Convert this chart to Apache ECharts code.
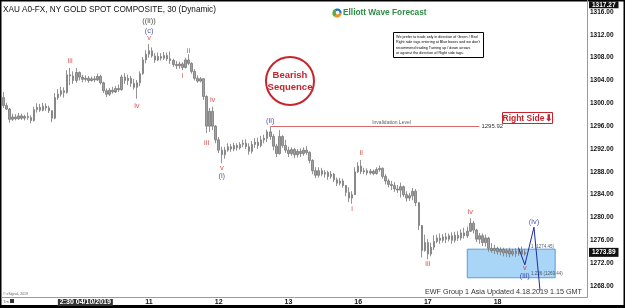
<!DOCTYPE html>
<html lang="en">
<head>
<meta charset="UTF-8">
<title>XAU A0-FX 30</title>
<script src="https://cdn.jsdelivr.net/npm/echarts@6/dist/echarts.min.js"></script>
<style>html,body{margin:0;padding:0;background:#fff}</style>
</head>
<body>
<div id="main" style="width:625px;height:308px"></div>
<script type="text/javascript">
// hourly bars: [open, close, low, high]
var bars = [
 [1301.0,1299.6,1299.2,1302.0],[1299.6,1299.0,1298.8,1300.1],[1299.0,1297.2,1296.6,1299.2],[1297.2,1297.6,1296.9,1298.2],
 [1297.6,1297.3,1297.0,1298.1],[1297.3,1297.8,1297.1,1298.3],[1297.8,1297.4,1297.1,1298.2],[1297.4,1297.7,1297.0,1298.0],
 [1297.7,1297.5,1297.1,1298.4],[1297.5,1297.0,1296.5,1297.9],[1297.0,1298.9,1296.8,1299.4],[1298.9,1299.3,1298.4,1300.0],
 [1299.3,1298.8,1298.5,1299.9],[1298.8,1299.5,1298.6,1300.1],[1299.5,1299.2,1298.7,1300.0],[1299.2,1298.7,1298.3,1299.6],
 [1298.7,1297.4,1296.7,1298.8],[1297.4,1301.0,1297.2,1301.8],[1301.0,1301.6,1300.6,1302.5],[1301.6,1302.2,1301.2,1302.9],
 [1302.2,1301.9,1301.0,1302.8],[1301.9,1305.0,1301.7,1305.8],[1305.0,1304.8,1303.2,1306.2],[1304.8,1304.0,1303.4,1305.6],
 [1304.0,1305.4,1303.6,1306.2],[1305.4,1304.6,1304.0,1305.6],[1304.6,1304.2,1303.7,1305.0],[1304.2,1304.4,1303.8,1304.9],
 [1304.4,1304.0,1303.6,1304.8],[1304.0,1304.3,1303.8,1304.7],[1304.3,1304.1,1303.7,1304.8],[1304.1,1304.7,1303.9,1305.2],
 [1304.7,1303.6,1303.3,1305.0],[1303.6,1302.2,1301.8,1303.8],[1302.2,1301.6,1301.1,1302.6],[1301.6,1302.3,1301.3,1302.7],
 [1302.3,1302.0,1301.7,1302.9],[1302.0,1302.6,1301.8,1303.0],[1302.6,1302.4,1302.0,1303.3],[1302.4,1304.6,1302.2,1305.0],
 [1304.6,1304.0,1303.4,1305.3],[1304.0,1304.4,1303.2,1305.0],[1304.4,1303.5,1302.9,1304.8],[1303.5,1302.8,1302.4,1304.3],
 [1302.8,1303.6,1300.8,1304.1],[1303.6,1305.2,1303.0,1305.6],[1305.2,1307.6,1305.0,1308.1],[1307.6,1308.6,1307.0,1309.3],
 [1308.6,1309.2,1308.0,1310.4],[1309.2,1308.3,1308.0,1309.8],[1308.3,1307.6,1307.1,1308.8],[1307.6,1308.2,1307.4,1308.9],
 [1308.2,1307.9,1307.5,1308.8],[1307.9,1308.4,1307.6,1309.0],[1308.4,1307.8,1307.4,1308.9],[1307.8,1307.5,1306.9,1309.1],
 [1307.5,1306.8,1306.4,1307.8],[1306.8,1306.6,1306.0,1307.4],[1306.6,1306.9,1306.1,1307.3],[1306.9,1306.3,1305.8,1307.2],
 [1306.3,1307.6,1306.1,1308.0],[1307.6,1307.0,1306.7,1308.6],[1307.0,1305.6,1305.2,1307.2],[1305.6,1304.4,1304.0,1306.0],
 [1304.4,1303.9,1303.6,1304.9],[1303.9,1304.3,1303.7,1304.6],[1304.3,1301.2,1300.6,1304.4],[1301.2,1296.0,1294.8,1301.4],
 [1296.0,1298.6,1295.0,1299.2],[1298.6,1296.0,1295.3,1299.4],[1296.0,1293.6,1293.0,1296.2],[1293.6,1291.8,1291.3,1294.1],
 [1291.8,1291.0,1289.5,1292.4],[1291.0,1291.8,1290.3,1292.4],[1291.8,1292.4,1291.5,1293.0],[1292.4,1292.0,1291.5,1292.9],
 [1292.0,1292.6,1291.6,1293.1],[1292.6,1292.2,1291.7,1293.0],[1292.2,1292.8,1291.9,1293.2],[1292.8,1293.0,1292.3,1293.6],
 [1293.0,1292.4,1292.0,1293.7],[1292.4,1291.6,1291.0,1293.0],[1291.6,1292.8,1291.2,1293.4],[1292.8,1293.2,1292.2,1293.9],
 [1293.2,1292.6,1292.0,1294.0],[1292.6,1293.6,1292.3,1294.3],[1293.6,1293.9,1293.0,1294.5],[1293.9,1295.0,1293.2,1295.4],
 [1295.0,1294.2,1293.6,1295.9],[1294.2,1292.5,1291.8,1294.6],[1292.5,1291.2,1290.6,1292.9],[1291.2,1294.2,1291.0,1295.3],
 [1294.2,1292.6,1292.2,1294.4],[1292.6,1291.8,1291.3,1293.6],[1291.8,1291.2,1290.6,1292.4],[1291.2,1291.9,1290.8,1292.3],
 [1291.9,1291.0,1290.4,1292.2],[1291.0,1291.6,1290.5,1292.0],[1291.6,1291.2,1290.6,1292.1],[1291.2,1291.8,1290.8,1292.3],
 [1291.8,1291.4,1291.0,1292.5],[1291.4,1290.0,1289.5,1291.6],[1290.0,1288.2,1287.6,1290.2],[1288.2,1287.4,1286.9,1288.8],
 [1287.4,1288.2,1287.0,1288.8],[1288.2,1287.6,1287.2,1288.7],[1287.6,1287.9,1287.0,1288.3],[1287.9,1287.2,1286.6,1288.2],
 [1287.2,1287.6,1286.8,1288.1],[1287.6,1286.6,1286.2,1287.8],[1286.6,1286.0,1285.5,1287.0],[1286.0,1286.4,1285.6,1286.9],
 [1286.4,1285.6,1285.2,1286.8],[1285.6,1284.4,1283.7,1285.7],[1284.4,1283.4,1282.7,1285.3],[1283.4,1284.0,1282.4,1284.6],
 [1284.0,1288.0,1284.0,1288.8],[1288.0,1289.0,1287.8,1289.7],[1289.0,1288.0,1287.6,1290.1],[1288.0,1288.2,1287.6,1288.7],
 [1288.2,1287.8,1287.4,1288.6],[1287.8,1288.1,1287.5,1288.5],[1288.1,1287.7,1287.4,1288.4],[1287.7,1288.4,1287.5,1288.8],
 [1288.4,1288.6,1288.0,1289.1],[1288.6,1287.2,1286.8,1288.8],[1287.2,1286.4,1285.8,1287.6],[1286.4,1285.8,1285.3,1286.8],
 [1285.8,1285.6,1284.8,1286.4],[1285.6,1285.0,1284.5,1286.2],[1285.0,1284.8,1284.3,1285.7],[1284.8,1285.4,1283.5,1286.1],
 [1285.4,1284.0,1283.6,1285.6],[1284.0,1283.4,1282.8,1284.6],[1283.4,1283.8,1282.9,1284.3],[1283.8,1284.6,1283.0,1285.2],
 [1284.6,1282.6,1282.0,1285.0],[1282.6,1278.6,1277.8,1282.0],[1278.6,1274.2,1273.0,1278.0],[1274.2,1275.6,1274.0,1277.0],
 [1275.6,1273.6,1272.7,1276.2],[1273.6,1274.8,1273.2,1275.6],[1274.8,1275.8,1274.3,1276.9],[1275.8,1276.4,1275.5,1277.0],
 [1276.4,1276.0,1275.4,1277.2],[1276.0,1276.6,1275.6,1277.1],[1276.6,1276.2,1275.5,1277.3],[1276.2,1276.8,1275.8,1277.2],
 [1276.8,1276.0,1275.4,1277.4],[1276.0,1276.9,1275.6,1277.5],[1276.9,1276.4,1275.9,1277.6],[1276.4,1277.3,1276.0,1277.9],
 [1277.3,1276.8,1276.3,1278.2],[1276.8,1277.6,1276.4,1278.4],[1277.6,1279.0,1277.5,1279.9],[1279.0,1277.8,1277.2,1279.4],
 [1277.8,1276.2,1275.7,1278.0],[1276.2,1276.8,1275.4,1277.3],[1276.8,1275.6,1275.0,1277.2],[1275.6,1276.4,1274.9,1277.0],
 [1276.4,1274.6,1274.0,1276.6],[1274.6,1274.2,1273.8,1275.5],[1274.2,1274.6,1273.6,1275.2],[1274.6,1274.0,1273.5,1274.9],
 [1274.0,1274.4,1273.4,1274.8],[1274.4,1273.8,1273.2,1274.7],[1273.8,1274.2,1273.1,1274.6],[1274.2,1273.6,1273.0,1274.7],
 [1273.6,1274.1,1273.2,1274.5],[1274.1,1273.7,1273.1,1274.6],[1273.7,1274.3,1273.3,1274.8],[1274.3,1273.6,1273.2,1274.9],
 [1273.6,1273.89,1273.3,1274.4]
];

// trading days (23 hourly slots each), first slot of each day
var dayNames = ['04/08','04/09','04/10','04/11','04/12','04/13','04/16','04/17','04/18','04/19'];
var dayStart = [-21, 2, 25, 48, 71, 94, 117, 140, 163, 186];
var slotCount = 193;
var shownDays = {48: '11', 71: '12', 94: '13', 117: '16', 140: '17', 163: '18'};
var cursorSlot = 27, cursorText = '2:30 04/10/2019';

var invalidation = 1295.92;
var invalidFrom = 88, invalidTo = 157;
var boxTop = 1274.45, boxBottom = 1269.44;
var boxFrom = 153, boxTo = 182;
var lastPrice = 1273.89, highPrice = 1317.27;
var projection = [[170, 1274.6], [172, 1271.7], [175, 1278.3], [177, 1267.2]];

var RED = '#cc2a2a', BLUE = '#1f2a9c', BLACK = '#111';
// [slot, price, text, colour]
var waveLabels = [
  [22, 1307.4, 'iii', RED], [44, 1299.6, 'iv', RED],
  [48, 1314.4, '((ii))', BLACK], [48, 1312.6, '(c)', BLUE], [48, 1311.5, 'v', RED],
  [59, 1304.8, 'i', RED], [61, 1309.2, 'ii', RED],
  [67, 1293.0, 'iii', RED], [69, 1300.6, 'iv', RED],
  [72, 1288.6, 'v', RED], [72, 1287.3, '(i)', BLUE],
  [88, 1296.9, '(ii)', BLUE],
  [115, 1281.5, 'i', RED], [118, 1291.3, 'ii', RED],
  [140, 1271.9, 'iii', RED], [154, 1281.0, 'iv', RED],
  [172, 1271.1, 'v', RED], [172, 1269.75, '(iii)', BLUE], [175, 1279.3, '(iv)', BLUE]
];

var categories = [];
for (var i = 0; i < slotCount; i++) {
  var d = 0;
  while (d + 1 < dayStart.length && dayStart[d + 1] <= i) d++;
  categories.push(dayNames[d] + ' ' + (i - dayStart[d]) + ':00');
}

var FONT = 'Liberation Sans, Arial, sans-serif';

var labelData = waveLabels.map(function (w) {
  return {
    value: [w[0], w[1]],
    label: {formatter: w[2], color: w[3]}
  };
});

var priceTag = {show: true, position: 'end', backgroundColor: '#111', color: '#fff',
                fontSize: 6.5, fontWeight: 'bold', padding: [1, 3], distance: 2};

var myChart = echarts.init(document.getElementById('main'));
var option = {
  animation: false,
  backgroundColor: '#fff',
  textStyle: {fontFamily: FONT},
  grid: {left: 2, right: 38, top: 0.6, bottom: 10.6},
  xAxis: {
    type: 'category',
    data: categories,
    boundaryGap: true,
    axisLine: {lineStyle: {color: '#9a9a9a', width: 1}},
    axisTick: {show: false},
    splitLine: {show: false},
    axisLabel: {
      interval: function (idx) { return shownDays[idx] !== undefined || idx === cursorSlot; },
      margin: 1,
      fontSize: 7,
      lineHeight: 8,
      fontWeight: 'bold',
      color: BLACK,
      fontFamily: FONT,
      formatter: function (v, idx) {
        if (idx === cursorSlot) return '{cur|' + cursorText + '}';
        return shownDays[idx] || '';
      },
      rich: {
        cur: {backgroundColor: '#333', color: '#fff', fontSize: 7, fontWeight: 'bold', padding: [0, 2], lineHeight: 8}
      }
    }
  },
  yAxis: {
    type: 'value',
    position: 'right',
    min: 1266,
    max: 1318,
    interval: 2,
    axisLine: {show: true, lineStyle: {color: '#9a9a9a'}},
    axisTick: {show: false},
    splitLine: {show: false},
    axisLabel: {
      margin: 3,
      fontSize: 6.5,
      fontWeight: 'bold',
      color: BLACK,
      fontFamily: FONT,
      formatter: function (v) {
        return (v % 4 === 0 && v >= 1268 && v <= 1316) ? v.toFixed(2) : '';
      }
    }
  },
  series: [
    {
      name: 'XAU',
      type: 'candlestick',
      data: bars,
      barWidth: 2,
      silent: true,
      itemStyle: {color: '#a0a0a0', color0: '#a0a0a0', borderColor: '#777', borderColor0: '#777', borderWidth: 0.8},
      markArea: {
        silent: true,
        itemStyle: {color: '#a9d6f6', borderColor: '#5a9bd8', borderWidth: 1},
        data: [[{coord: [boxFrom, boxTop]}, {coord: [boxTo, boxBottom]}]]
      },
      markLine: {
        silent: true,
        symbol: ['none', 'none'],
        data: [
          [{coord: [invalidFrom, invalidation], lineStyle: {color: '#d66a6a', width: 1, type: 'solid'},
            label: {show: true, position: 'end', formatter: invalidation.toFixed(2), fontSize: 6, color: '#333', distance: 2}},
           {coord: [invalidTo, invalidation]}],
          {yAxis: lastPrice, lineStyle: {color: 'rgba(0,0,0,0)', width: 0},
           label: Object.assign({formatter: lastPrice.toFixed(2)}, priceTag)},
          {yAxis: highPrice, lineStyle: {color: 'rgba(0,0,0,0)', width: 0},
           label: Object.assign({formatter: highPrice.toFixed(2)}, priceTag, {padding: [0, 3]})}
        ]
      }
    },
    {
      name: 'projection',
      type: 'line',
      data: projection,
      symbol: 'none',
      silent: true,
      z: 5,
      lineStyle: {color: BLUE, width: 1}
    },
    {
      name: 'labels',
      type: 'scatter',
      symbolSize: 0,
      silent: true,
      z: 6,
      label: {show: true, position: 'inside', fontSize: 7.5, fontFamily: FONT},
      data: labelData.concat([
        {value: [128, 1296.7], label: {formatter: 'Invalidation Level', color: '#333', fontSize: 5}},
        {value: [174, 1274.9], label: {formatter: '1 (1274.45)', color: '#334', fontSize: 4.5, align: 'left'}},
        {value: [174, 1270.2], label: {formatter: '1.236 (1269.44)', color: '#334', fontSize: 4.5, align: 'left'}}
      ])
    }
  ],
  graphic: [
    {type: 'text', left: 3, top: 5.5, style: {text: 'XAU A0-FX, NY GOLD SPOT COMPOSITE, 30 (Dynamic)', font: '8.2px ' + FONT, fill: '#111'}},
    // logo
    {type: 'sector', shape: {cx: 337, cy: 13, r: 4.6, startAngle: 0, endAngle: 2.1}, style: {fill: '#f29222'}},
    {type: 'sector', shape: {cx: 337, cy: 13, r: 4.6, startAngle: 2.1, endAngle: 4.2}, style: {fill: '#5aa844'}},
    {type: 'sector', shape: {cx: 337, cy: 13, r: 4.6, startAngle: 4.2, endAngle: 6.2832}, style: {fill: '#1f73c0'}},
    {type: 'circle', shape: {cx: 337.6, cy: 12.6, r: 1.8}, style: {fill: '#fff'}},
    {type: 'text', left: 343, top: 8.5, style: {text: 'Elliott Wave Forecast', font: 'bold 8.3px ' + FONT, fill: '#2e8c45'}},
    // disclaimer
    {type: 'rect', shape: {x: 393.5, y: 32.5, width: 90, height: 25}, style: {fill: '#fff', stroke: '#000', lineWidth: 1}},
    {type: 'text', left: 396, top: 34.5, style: {
      text: 'We prefer to trade only in direction of Green / Red\nRight side tags entering at Blue boxes and we don\'t\nrecommend trading Turning up / down arrows\nor against the direction of Right side tags.',
      font: '3.7px ' + FONT, lineHeight: 5.2, fill: '#000'}},
    // bearish sequence
    {type: 'circle', shape: {cx: 290, cy: 81, r: 24}, style: {fill: '#fff', stroke: '#c8242b', lineWidth: 2}},
    {type: 'text', x: 290, y: 81, style: {text: 'Bearish\nSequence', font: 'bold 9.5px ' + FONT, fill: '#c8242b',
      align: 'center', verticalAlign: 'middle', lineHeight: 12}},
    // right side tag
    {type: 'rect', shape: {x: 502.5, y: 112.5, width: 50, height: 11}, style: {fill: '#fff', stroke: '#c8242b', lineWidth: 1}},
    {type: 'text', x: 527.5, y: 118.3, style: {text: 'Right Side\u2B07', font: 'bold 8.5px ' + FONT, fill: '#c8242b',
      align: 'center', verticalAlign: 'middle'}},
    // footer texts
    {type: 'text', x: 582, y: 292, style: {text: 'EWF Group 1 Asia Updated 4.18.2019 1.15 GMT', font: '7.2px ' + FONT,
      fill: '#333', align: 'right', verticalAlign: 'middle'}},
    {type: 'text', left: 3, top: 292, style: {text: '\u00A9 eSignal, 2019', font: '3.5px ' + FONT, fill: '#666'}},
    {type: 'text', left: 3, top: 299.5, style: {text: 'Tm', font: '4px ' + FONT, fill: '#666'}},
    {type: 'rect', shape: {x: 10, y: 299, width: 4, height: 4}, style: {fill: '#333'}},
    // frame
    {type: 'rect', shape: {x: 0, y: 305, width: 625, height: 3}, style: {fill: '#000'}},
    {type: 'rect', shape: {x: 0.75, y: 0.75, width: 623.5, height: 306}, style: {fill: 'none', stroke: '#000', lineWidth: 1.5}}
  ]
};
myChart.setOption(option);
</script>
</body>
</html>
